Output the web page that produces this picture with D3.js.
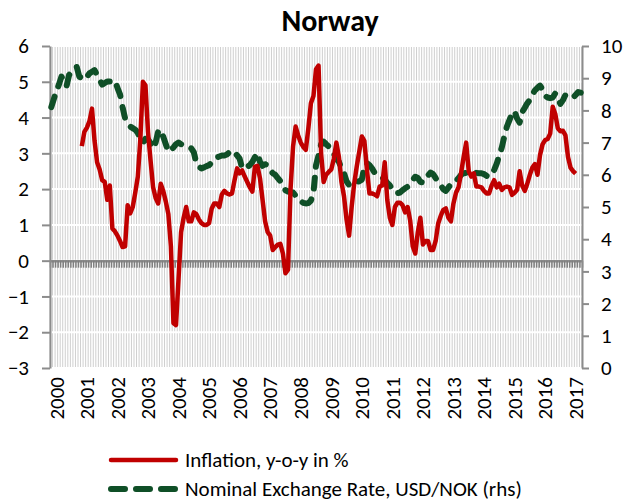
<!DOCTYPE html>
<html>
<head>
<meta charset="utf-8">
<script src="https://cdn.jsdelivr.net/npm/d3@7"></script>
<style>
  body { margin: 0; background: #fff; }
  text { font-family: Calibri, Carlito, Lato, sans-serif; fill: #000; }
</style>
</head>
<body>
<svg id="chart"></svg>
<script>
// monthly data, Jan 2000 onwards
var years = [2000, 2001, 2002, 2003, 2004, 2005, 2006, 2007, 2008, 2009,
             2010, 2011, 2012, 2013, 2014, 2015, 2016, 2017]

var exchangeRate = [
  8.1, 8.35, 8.6, 8.8, 9.05, 8.9, 8.75, 9.1, 9.2, 9.3,
  9.35, 9.05, 9.0, 8.95, 9.05, 9.15, 9.2, 9.25, 9.1, 8.95,
  8.8, 8.85, 8.9, 8.9, 8.92, 8.93, 8.7, 8.5, 8.1, 7.75,
  7.6, 7.5, 7.45, 7.4, 7.3, 7.1, 7.0, 7.12, 7.1, 6.98,
  6.82, 7.0, 7.35, 7.4, 7.18, 6.95, 6.72, 6.78, 6.85, 6.95,
  7.0, 6.95, 6.92, 6.9, 6.85, 6.82, 6.7, 6.36, 6.25, 6.2,
  6.23, 6.27, 6.3, 6.38, 6.47, 6.54, 6.57, 6.6, 6.6, 6.63,
  6.7, 6.75, 6.7, 6.6, 6.5, 6.2, 6.2, 6.25, 6.3, 6.4,
  6.55, 6.67, 6.4, 6.28, 6.33, 6.3, 6.15, 6.05, 6.0, 5.9,
  5.8, 5.65, 5.52, 5.48, 5.46, 5.45, 5.35, 5.25, 5.17, 5.13,
  5.11, 5.12, 5.2, 5.45, 6.3, 6.6, 6.95, 7.03, 6.95, 6.88,
  6.75, 6.65, 6.5, 6.4, 6.2, 6.05, 5.8, 5.68, 5.72, 5.78,
  5.78, 5.8, 5.85, 6.25, 6.36, 6.3, 6.2, 6.07, 6.0, 5.97,
  5.92, 5.85, 5.75, 5.67, 5.55, 5.45, 5.43, 5.45, 5.52, 5.58,
  5.63, 5.72, 5.84, 5.94, 5.9, 5.78, 5.76, 5.85, 5.98, 6.07,
  6.02, 5.9, 5.77, 5.68, 5.55, 5.5, 5.6, 5.72, 5.78, 5.8,
  5.9, 6.0, 6.05, 6.06, 6.08, 6.1, 6.08, 6.06, 6.05, 6.05,
  6.02, 5.97, 5.94, 6.02, 6.15, 6.35, 6.6, 6.85, 7.2, 7.5,
  7.7, 7.9, 7.98, 7.75, 7.62, 7.95, 8.08, 8.22, 8.32, 8.5,
  8.62, 8.7, 8.77, 8.65, 8.45, 8.4, 8.38, 8.4, 8.53, 8.4,
  8.2, 8.32, 8.48, 8.45, 8.4, 8.4, 8.48, 8.57, 8.55
]

// inflation starts in Jan 2001
var inflationStart = 12
var inflation = [
  3.2, 3.6, 3.72, 3.9, 4.25, 3.35, 2.75, 2.55, 2.25, 2.2,
  1.7, 2.1, 0.9, 0.82, 0.7, 0.55, 0.38, 0.4, 1.55, 1.32,
  1.5, 1.9, 2.35, 3.4, 5.0, 4.9, 3.6, 2.8, 2.05, 1.75,
  1.6, 2.15, 1.95, 1.65, 1.3, 0.4, -1.75, -1.8, -0.5, 0.8,
  1.2, 1.5, 1.1, 1.1, 1.35, 1.3, 1.15, 1.05, 1.0, 1.0,
  1.05, 1.45, 1.6, 1.6, 1.5, 1.85, 1.95, 1.88, 1.85, 1.88,
  2.25, 2.58, 2.44, 2.52, 2.35, 2.2, 2.05, 1.93, 2.63, 2.65,
  2.3, 1.7, 1.1, 0.8, 0.7, 0.3, 0.38, 0.45, 0.47, 0.2,
  -0.35, -0.25, 2.0, 3.2, 3.75, 3.5, 3.3, 3.18, 3.1, 3.7,
  4.4, 4.6, 5.35, 5.45, 3.0, 2.2, 2.4, 2.48, 2.55, 2.85,
  3.3, 2.9, 2.2, 1.8, 1.15, 0.7, 1.5, 2.15, 2.63, 3.05,
  3.47, 3.35, 2.55, 1.88, 1.88, 1.85, 1.8, 2.07, 2.1, 2.75,
  1.7, 1.2, 1.0, 1.5, 1.62, 1.62, 1.55, 1.35, 1.5, 1.12,
  0.4, 0.2, 0.8, 1.2, 0.45, 0.55, 0.55, 0.3, 0.3, 0.55,
  1.04, 1.25, 1.42, 1.46, 1.2, 1.1, 1.6, 1.9, 2.05, 2.45,
  2.9, 3.3, 2.5, 2.35, 2.44, 2.07, 2.07, 2.05, 1.95, 1.88,
  1.88, 2.1, 2.25, 2.05, 2.15, 1.98, 2.05, 2.07, 2.05, 1.84,
  1.9, 1.98, 2.5, 2.1, 1.95, 2.15, 2.4, 2.6, 2.7, 2.4,
  2.95, 3.25, 3.37, 3.4, 3.55, 4.3, 4.1, 3.7, 3.62, 3.63,
  3.5, 2.9, 2.6, 2.5, 2.43
]

var leftTicks = [-3, -2, -1, 0, 1, 2, 3, 4, 5, 6]
var rightTicks = [0, 1, 2, 3, 4, 5, 6, 7, 8, 9, 10]

var dimensions = ({
  width: 628,
  height: 503,
  margin: { top: 46, right: 46, bottom: 135, left: 50 }
})
var plotRight = dimensions.width - dimensions.margin.right
var plotBottom = dimensions.height - dimensions.margin.bottom

var red = "#c00000"
var green = "#0f4f27"
var axisGrey = "#8c8c8c"
var fontSize = "21px"

var svg = d3.select("#chart")
  .attr("width", dimensions.width)
  .attr("height", dimensions.height)

var nMonths = exchangeRate.length

var xScale = d3.scaleLinear()
  .domain([-0.5, nMonths - 0.5])
  .range([dimensions.margin.left, plotRight])

var yLeft = d3.scaleLinear()
  .domain([-3, 6])
  .range([plotBottom, dimensions.margin.top])

var yRight = d3.scaleLinear()
  .domain([0, 10])
  .range([plotBottom, dimensions.margin.top])

// month boundaries
var boundaries = d3.range(0, nMonths + 1).map(d => d - 0.5)

// vertical light gridlines, one per month
svg.append("g")
  .selectAll("line")
  .data(boundaries)
  .enter()
  .append("line")
  .attr("x1", d => xScale(d))
  .attr("x2", d => xScale(d))
  .attr("y1", dimensions.margin.top)
  .attr("y2", plotBottom)
  .attr("stroke", "#cfcfcf")
  .attr("stroke-width", 1)

// white horizontal gridlines
svg.append("g")
  .selectAll("line")
  .data(leftTicks)
  .enter()
  .append("line")
  .attr("x1", dimensions.margin.left)
  .attr("x2", plotRight)
  .attr("y1", d => yLeft(d))
  .attr("y2", d => yLeft(d))
  .attr("stroke", "#fff")
  .attr("stroke-width", 2)

// category axis crossing at zero, dense monthly ticks
var zeroAxisGen = d3.axisBottom(xScale)
  .tickValues(boundaries)
  .tickSize(7)
  .tickSizeOuter(0)
  .tickFormat("")
var zeroAxis = svg.append("g")
  .attr("transform", `translate(0,${yLeft(0)})`)
  .call(zeroAxisGen)
zeroAxis.select(".domain").attr("stroke", axisGrey).attr("stroke-width", 2.5)
zeroAxis.selectAll(".tick line").attr("stroke", "#7f7f7f").attr("stroke-width", 1.5)

// left axis
var yAxisGen = d3.axisLeft(yLeft).tickValues(leftTicks).tickSize(8).tickSizeOuter(0).tickPadding(13)
var yAxis = svg.append("g")
  .attr("transform", `translate(${dimensions.margin.left},0)`)
  .call(yAxisGen)

// right axis
var yRightGen = d3.axisRight(yRight).tickValues(rightTicks).tickSize(7).tickSizeOuter(0).tickPadding(12)
var yAxisR = svg.append("g")
  .attr("transform", `translate(${plotRight},0)`)
  .call(yRightGen)

;[yAxis, yAxisR].forEach(function (g) {
  g.select(".domain").attr("stroke", axisGrey).attr("stroke-width", 2)
  g.selectAll(".tick line").attr("stroke", axisGrey).attr("stroke-width", 2)
  g.selectAll(".tick text")
    .style("font-family", "Calibri, Carlito, Lato, sans-serif")
    .style("font-size", fontSize)
    .attr("fill", "#000")
})

// year labels, rotated
svg.append("g")
  .selectAll("text")
  .data(years)
  .enter()
  .append("text")
  .attr("transform", d => `translate(${xScale((d - years[0]) * 12) + 5},${plotBottom + 9}) rotate(-90)`)
  .attr("text-anchor", "end")
  .attr("dy", "0.35em")
  .style("font-size", fontSize)
  .text(d => d)

// exchange rate line (rhs)
var fxLine = d3.line()
  .x((d, i) => xScale(i))
  .y(d => yRight(d))

svg.append("path")
  .datum(exchangeRate)
  .attr("d", fxLine)
  .attr("fill", "none")
  .attr("stroke", green)
  .attr("stroke-width", 6)
  .attr("stroke-dasharray", "11,11")
  .attr("stroke-linecap", "round")
  .attr("stroke-linejoin", "round")

// inflation line (lhs)
var inflLine = d3.line()
  .x((d, i) => xScale(i + inflationStart))
  .y(d => yLeft(d))

svg.append("path")
  .datum(inflation)
  .attr("d", inflLine)
  .attr("fill", "none")
  .attr("stroke", red)
  .attr("stroke-width", 4.5)
  .attr("stroke-linejoin", "round")

// title
svg.append("text")
  .attr("x", 330)
  .attr("y", 31)
  .attr("text-anchor", "middle")
  .style("font-size", "30px")
  .style("font-weight", "bold")
  .text("Norway")

// legend
var legend = [
  { label: "Inflation, y-o-y in %", color: red, width: 4.5, dash: null, y: 460 },
  { label: "Nominal Exchange Rate, USD/NOK (rhs)", color: green, width: 6, dash: "14,11", y: 489 }
]
var lg = svg.append("g")
  .selectAll("g")
  .data(legend)
  .enter()
  .append("g")
lg.append("line")
  .attr("x1", 111).attr("x2", 176)
  .attr("y1", d => d.y).attr("y2", d => d.y)
  .attr("stroke", d => d.color)
  .attr("stroke-width", d => d.width)
  .attr("stroke-dasharray", d => d.dash)
  .attr("stroke-linecap", "round")
lg.append("text")
  .attr("x", 185)
  .attr("y", d => d.y)
  .attr("dy", "0.35em")
  .style("font-size", fontSize)
  .text(d => d.label)
</script>
</body>
</html>
